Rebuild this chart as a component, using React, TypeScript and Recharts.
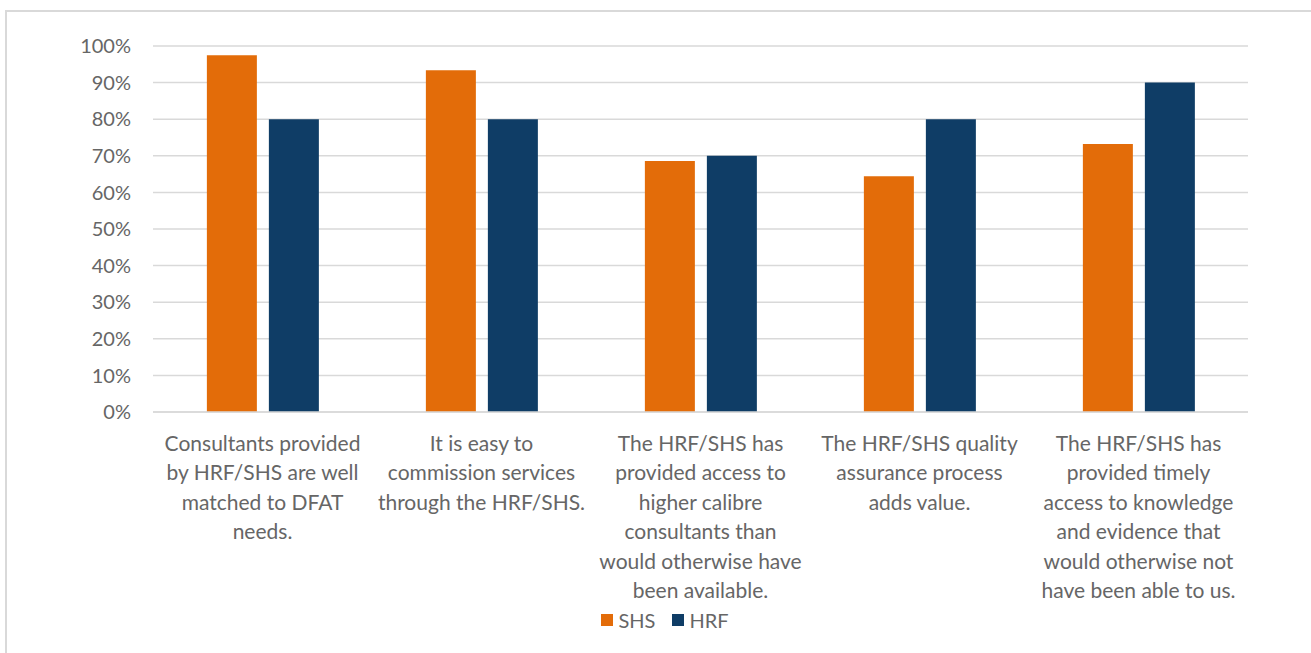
import { BarChart, Bar, XAxis, YAxis, CartesianGrid, Legend } from 'recharts';

const categories = [
  'Consultants provided\nby HRF/SHS are well\nmatched to DFAT\nneeds.',
  'It is easy to\ncommission services\nthrough the HRF/SHS.',
  'The HRF/SHS has\nprovided access to\nhigher calibre\nconsultants than\nwould otherwise have\nbeen available.',
  'The HRF/SHS quality\nassurance process\nadds value.',
  'The HRF/SHS has\nprovided timely\naccess to knowledge\nand evidence that\nwould otherwise not\nhave been able to us.',
];

const shsValues = [0.975, 0.934, 0.686, 0.644, 0.732];
const hrfValues = [0.8, 0.8, 0.7, 0.8, 0.9];

const yTicks = [0, 0.1, 0.2, 0.3, 0.4, 0.5, 0.6, 0.7, 0.8, 0.9, 1];

const data = categories.map((c, i) => ({ name: c, SHS: shsValues[i], HRF: hrfValues[i] }));

const FONT = 'Lato, "Liberation Sans", sans-serif';
const TEXT = '#666666';
const ORANGE = '#E36C09';
const BLUE = '#0F3D66';

const CategoryTick = (props: any) => {
  const { x, y, payload } = props;
  const lines = String(payload.value).split('\n');
  return (
    <g transform={`translate(${x},${y})`}>
      {lines.map((l, i) => (
        <text
          key={i}
          x={0}
          y={31 + i * 29.4}
          textAnchor="middle"
          fill={TEXT}
          fontSize={21}
          fontFamily={FONT}
        >
          {l}
        </text>
      ))}
    </g>
  );
};

const LegendContent = () => (
  <div
    style={{
      display: 'flex',
      justifyContent: 'center',
      gap: 17,
      paddingLeft: 82,
      marginTop: -4,
      fontFamily: FONT,
      fontSize: 20,
      color: TEXT,
    }}
  >
    {[
      { label: 'SHS', color: ORANGE },
      { label: 'HRF', color: BLUE },
    ].map((item) => (
      <div key={item.label} style={{ display: 'flex', alignItems: 'center' }}>
        <span style={{ width: 12, height: 12, background: item.color, display: 'inline-block', marginRight: 5 }} />
        <span>{item.label}</span>
      </div>
    ))}
  </div>
);

const App = () => {
  return (
    <div style={{ position: 'absolute', left: 0, top: 0, width: 1311, height: 653, background: '#fff' }}>
      <div
        style={{
          position: 'absolute',
          left: 5,
          top: 10,
          width: 1310,
          height: 650,
          border: '2px solid #D9D9D9',
          boxSizing: 'border-box',
        }}
      />
      <BarChart
        width={1311}
        height={653}
        data={data}
        margin={{ top: 46, right: 63, left: 0, bottom: 0 }}
        barCategoryGap="24.6%"
        barGap={12}
        style={{ position: 'absolute', left: 0, top: 0 }}
      >
        <CartesianGrid vertical={false} stroke="#D9D9D9" strokeWidth={1.5} />
        <XAxis
          dataKey="name"
          tick={<CategoryTick />}
          tickLine={false}
          axisLine={{ stroke: '#D9D9D9', strokeWidth: 1.5 }}
          height={200}
          interval={0}
        />
        <YAxis
          width={153}
          domain={[0, 1]}
          ticks={yTicks}
          tickFormatter={(v: number) => `${Math.round(v * 100)}%`}
          tickLine={false}
          axisLine={false}
          tickMargin={16}
          tick={{ fill: TEXT, fontSize: 20, fontFamily: FONT }}
          interval={0}
        />
        <Legend verticalAlign="bottom" height={41} content={<LegendContent />} />
        <Bar dataKey="SHS" fill={ORANGE} isAnimationActive={false} />
        <Bar dataKey="HRF" fill={BLUE} isAnimationActive={false} />
      </BarChart>
    </div>
  );
};

export default App;
